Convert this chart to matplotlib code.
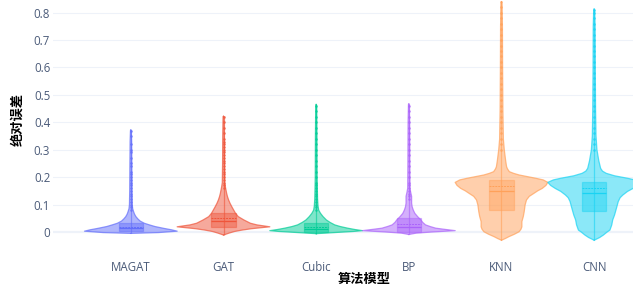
import matplotlib
matplotlib.use("Agg")
import matplotlib.pyplot as plt
from matplotlib.patches import Rectangle

categories = ['MAGAT', 'GAT', 'Cubic', 'BP', 'KNN', 'CNN']
colors = ['#636EFA', '#EF553B', '#00CC96', '#AB63FA', '#FFA15A', '#19D3F3']

# violin outline profiles: y values and normalised half-widths
magat_y = [-0.005, -0.002, 0.003, 0.008, 0.013, 0.02, 0.026, 0.032, 0.04, 0.048, 0.056, 0.065, 0.074, 0.085, 0.1, 0.15, 0.25, 0.33, 0.37, 0.372]
magat_w = [0, 0.3, 0.5, 0.44, 0.36, 0.26, 0.2, 0.145, 0.1, 0.075, 0.055, 0.04, 0.03, 0.02, 0.015, 0.012, 0.01, 0.008, 0.004, 0]

gat_y = [-0.011, -0.004, 0.002, 0.007, 0.012, 0.019, 0.026, 0.032, 0.044, 0.056, 0.068, 0.08, 0.092, 0.105, 0.117, 0.129, 0.141, 0.153, 0.165, 0.18, 0.25, 0.35, 0.42, 0.422]
gat_w = [0, 0.06, 0.12, 0.2, 0.3, 0.5, 0.36, 0.29, 0.22, 0.16, 0.13, 0.11, 0.09, 0.07, 0.055, 0.043, 0.034, 0.027, 0.02, 0.013, 0.01, 0.008, 0.005, 0]

cubic_y = [-0.006, -0.002, 0.002, 0.005, 0.009, 0.014, 0.02, 0.026, 0.035, 0.044, 0.056, 0.068, 0.08, 0.095, 0.12, 0.2, 0.35, 0.46, 0.465]
cubic_w = [0, 0.2, 0.4, 0.5, 0.42, 0.34, 0.26, 0.2, 0.15, 0.11, 0.075, 0.047, 0.027, 0.02, 0.015, 0.01, 0.008, 0.005, 0]

bp_y = [-0.009, -0.004, 0.0, 0.005, 0.01, 0.014, 0.02, 0.026, 0.035, 0.044, 0.056, 0.068, 0.08, 0.092, 0.105, 0.115, 0.13, 0.145, 0.16, 0.25, 0.4, 0.465, 0.467]
bp_w = [0, 0.08, 0.25, 0.5, 0.38, 0.29, 0.23, 0.18, 0.15, 0.13, 0.095, 0.065, 0.048, 0.036, 0.03, 0.03, 0.03, 0.02, 0.012, 0.01, 0.008, 0.004, 0]

knn_y = [-0.03, -0.024, -0.017, -0.008, 0.001, 0.01, 0.019, 0.038, 0.056, 0.074, 0.099, 0.117, 0.13, 0.141, 0.15, 0.159, 0.17, 0.181, 0.19, 0.196, 0.202, 0.208, 0.214, 0.22, 0.23, 0.238, 0.26, 0.3, 0.34, 0.45, 0.6, 0.75, 0.83, 0.84]
knn_w = [0, 0.04, 0.08, 0.14, 0.19, 0.21, 0.22, 0.22, 0.235, 0.245, 0.255, 0.27, 0.3, 0.35, 0.39, 0.44, 0.48, 0.5, 0.45, 0.37, 0.28, 0.19, 0.13, 0.085, 0.065, 0.055, 0.045, 0.03, 0.02, 0.015, 0.012, 0.01, 0.006, 0]

cnn_y = [-0.03, -0.02, -0.011, 0.0, 0.007, 0.026, 0.044, 0.062, 0.086, 0.111, 0.125, 0.135, 0.148, 0.159, 0.17, 0.181, 0.19, 0.196, 0.205, 0.214, 0.222, 0.232, 0.26, 0.3, 0.35, 0.45, 0.6, 0.75, 0.81, 0.813]
cnn_w = [0, 0.06, 0.1, 0.14, 0.17, 0.19, 0.2, 0.22, 0.24, 0.26, 0.28, 0.31, 0.36, 0.42, 0.47, 0.5, 0.44, 0.36, 0.22, 0.13, 0.09, 0.07, 0.05, 0.03, 0.02, 0.015, 0.012, 0.01, 0.005, 0]

profiles_y = [magat_y, gat_y, cubic_y, bp_y, knn_y, cnn_y]
profiles_w = [magat_w, gat_w, cubic_w, bp_w, knn_w, cnn_w]

# box statistics
q1 = [0.002, 0.019, 0.001, 0.001, 0.082, 0.078]
median = [0.014, 0.040, 0.012, 0.020, 0.151, 0.143]
mean = [0.020, 0.050, 0.020, 0.028, 0.168, 0.160]
q3 = [0.033, 0.068, 0.034, 0.050, 0.190, 0.181]

# outlier points
magat_out = [0.08, 0.09, 0.1, 0.11, 0.12, 0.13, 0.14, 0.15, 0.16, 0.17, 0.18, 0.19, 0.2, 0.21, 0.22, 0.24, 0.25, 0.27, 0.29, 0.3, 0.32, 0.35, 0.37]
gat_out = [0.16, 0.17, 0.18, 0.19, 0.2, 0.21, 0.22, 0.23, 0.24, 0.25, 0.26, 0.27, 0.28, 0.29, 0.3, 0.31, 0.32, 0.33, 0.34, 0.36, 0.38, 0.4, 0.42]
cubic_out = [0.08, 0.09, 0.1, 0.11, 0.12, 0.13, 0.14, 0.15, 0.16, 0.17, 0.18, 0.2, 0.22, 0.24, 0.26, 0.28, 0.3, 0.32, 0.34, 0.36, 0.38, 0.4, 0.42, 0.44, 0.46]
bp_out = [0.12, 0.13, 0.14, 0.15, 0.16, 0.17, 0.18, 0.2, 0.22, 0.24, 0.26, 0.28, 0.3, 0.32, 0.34, 0.36, 0.38, 0.4, 0.42, 0.44, 0.46]
knn_out = [0.3, 0.32, 0.34, 0.36, 0.38, 0.4, 0.42, 0.44, 0.46, 0.48, 0.5, 0.52, 0.54, 0.56, 0.58, 0.6, 0.62, 0.64, 0.66, 0.68, 0.7, 0.72, 0.74, 0.76, 0.78, 0.8, 0.82, 0.84]
cnn_out = [0.3, 0.32, 0.34, 0.36, 0.38, 0.4, 0.42, 0.44, 0.46, 0.48, 0.5, 0.52, 0.54, 0.56, 0.58, 0.6, 0.62, 0.64, 0.66, 0.68, 0.7, 0.72, 0.74, 0.76, 0.78, 0.8, 0.81]
outliers = [magat_out, gat_out, cubic_out, bp_out, knn_out, cnn_out]

yticks = [0, 0.1, 0.2, 0.3, 0.4, 0.5, 0.6, 0.7, 0.8]
ytick_labels = ['0', '0.1', '0.2', '0.3', '0.4', '0.5', '0.6', '0.7', '0.8']

W, H = 633, 293
fig = plt.figure(figsize=(W / 100, H / 100), dpi=100)
ax = fig.add_axes([53 / W, (H - 246) / H, (672 - 53) / W, 246 / H])

for y in yticks:
    ax.axhline(y, color='#EEF2F9', lw=1.6 if y == 0 else 0.8, zorder=0)

box_half = 0.13
for i, (py, pw) in enumerate(zip(profiles_y, profiles_w)):
    c = colors[i]
    left = [i - w for w in pw]
    right = [i + w for w in pw]
    ax.fill_betweenx(py, left, right, facecolor=c, alpha=0.5, edgecolor='none', zorder=2)
    ax.plot(left, py, color=c, lw=0.9, alpha=0.7, zorder=3)
    ax.plot(right, py, color=c, lw=0.9, alpha=0.7, zorder=3)
    ax.vlines(i, py[0], py[-1], color=c, lw=0.9, alpha=0.6, zorder=3)
    ax.add_patch(Rectangle((i - box_half, q1[i]), 2 * box_half, q3[i] - q1[i],
                           facecolor=c, alpha=0.45, edgecolor=c, lw=0.9, zorder=4))
    ax.hlines(median[i], i - box_half, i + box_half, color=c, lw=0.9, zorder=5)
    ax.hlines(mean[i], i - box_half, i + box_half, color=c, lw=0.7, ls=(0, (2, 1)), zorder=5)
    ax.scatter([i] * len(outliers[i]), outliers[i], s=3.5, color=c, alpha=0.75,
               linewidths=0, zorder=5)

ax.set_xlim(-0.84, 5.84)
ax.set_ylim(-0.051, 0.846)
ax.set_xticks(range(len(categories)))
ax.set_xticklabels(categories)
ax.set_yticks(yticks)
ax.set_yticklabels(ytick_labels)
for s in ax.spines.values():
    s.set_visible(False)
ax.tick_params(axis='both', length=0, colors='#4a5a78', labelsize=8.3)
ax.tick_params(axis='x', pad=11)
ax.tick_params(axis='y', pad=2)
for lab in ax.get_xticklabels() + ax.get_yticklabels():
    lab.set_family(['Open Sans', 'DejaVu Sans'])

fig.text(364 / W, 1 - 279 / H, '算法模型', ha='center', va='center', fontsize=9.5,
         fontweight='heavy', family=['Noto Sans CJK SC', 'DejaVu Sans'], color='black')
fig.text(17 / W, 1 - 119 / H, '绝对误差', ha='center', va='center', rotation=90, fontsize=9.5,
         fontweight='heavy', family=['Noto Sans CJK SC', 'DejaVu Sans'], color='black')

fig.savefig('out.png', dpi=100)
